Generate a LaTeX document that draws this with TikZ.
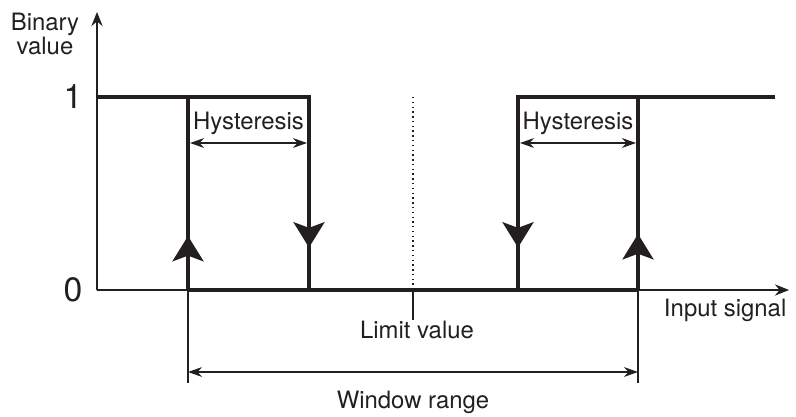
\documentclass[tikz,border=0pt]{standalone}
\usepackage{fontspec}
\setmainfont{TeX Gyre Heros}
\usepackage{tikz}
\usetikzlibrary{positioning,arrows.meta,decorations.markings}
\definecolor{inchiostro}{HTML}{231F20}

\begin{document}
\begin{tikzpicture}[x=0.025cm, y=0.025cm,
    asse/.style={line width=1pt, draw=inchiostro},
    segnale/.style={line width=2.8pt, draw=inchiostro},
    verso/.style={postaction={decorate}, decoration={markings,
        mark=at position #1 with {\arrow{Stealth[length=18pt, width=22pt, inset=4pt]}}}},
    etichetta/.style={font=\fontsize{17}{17.5}\selectfont, text=inchiostro},
    cifra/.style={font=\fontsize{24}{24}\selectfont, text=inchiostro}]
    \useasboundingbox (0,0) rectangle (796,416);

    % Punti notevoli
    \coordinate (O) at (97,126);
    \coordinate (Y1) at (97,319);
    \coordinate (A0) at (188,126);  \coordinate (A1) at (188,319);
    \coordinate (B0) at (309,126);  \coordinate (B1) at (309,319);
    \coordinate (C0) at (518,126);  \coordinate (C1) at (518,319);
    \coordinate (D0) at (638,126);  \coordinate (D1) at (638,319);
    \coordinate (L0) at (413,126);  \coordinate (L1) at (413,319);
    \coordinate (fine) at (775,319);

    % Assi
    \draw[asse, -{Stealth[length=10pt, width=8pt]}] (O) -- (97,404) coordinate (ytop);
    \draw[asse, -{Stealth[length=10pt, width=8pt]}] (O) -- (789,126) coordinate (xend);
    \node[etichetta, align=center] (binario) at (45,382) {Binary\\value};
    \node[etichetta, anchor=west] (ingresso) at (659,106) {Input signal};
    \node[cifra] (uno) at (73,319) {1};
    \node[cifra] (zero) at (73,126) {0};

    % Valore limite
    \draw[line width=1pt, draw=inchiostro, dash pattern=on 1pt off 2.4pt] (L1) -- (413,131);
    \draw[asse] (L0) -- (413,96) coordinate (L2);
    \node[etichetta] (limite) at (417,86) {Limit value};

    % Ciclo sinistro
    \draw[segnale] (Y1) -- (B1) -- (B0);
    \draw[segnale, verso=0.28] (A0) -- (A1);
    \draw[segnale, verso=0.78] (B1) -- (B0);

    % Tratto a zero
    \draw[segnale] (A0) -- (D0);

    % Ciclo destro
    \draw[segnale] (fine) -- (C1) -- (C0);
    \draw[segnale, verso=0.78] (C1) -- (C0);
    \draw[segnale, verso=0.29] (D0) -- (D1);

    % Isteresi
    \coordinate (Ha) at (190,273);  \coordinate (Hb) at (307,273);
    \coordinate (Hc) at (520,273);  \coordinate (Hd) at (636,273);
    \draw[asse, {Stealth[length=10pt, width=7pt]}-{Stealth[length=10pt, width=7pt]}] (Ha) -- (Hb)
        node[midway, above=2pt, etichetta] (ist1) {Hysteresis};
    \draw[asse, {Stealth[length=10pt, width=7pt]}-{Stealth[length=10pt, width=7pt]}] (Hc) -- (Hd)
        node[midway, above=2pt, etichetta] (ist2) {Hysteresis};

    % Finestra
    \draw[asse] (A0) -- (188,33) coordinate (Wa);
    \draw[asse] (D0) -- (638,33) coordinate (Wb);
    \coordinate (Fa) at (188,44);  \coordinate (Fb) at (638,44);
    \draw[asse, {Stealth[length=10pt, width=7pt]}-{Stealth[length=10pt, width=7pt]}] (Fa) -- (Fb);
    \node[etichetta] (finestra) at (413,14) {Window range};
\end{tikzpicture}
\end{document}
